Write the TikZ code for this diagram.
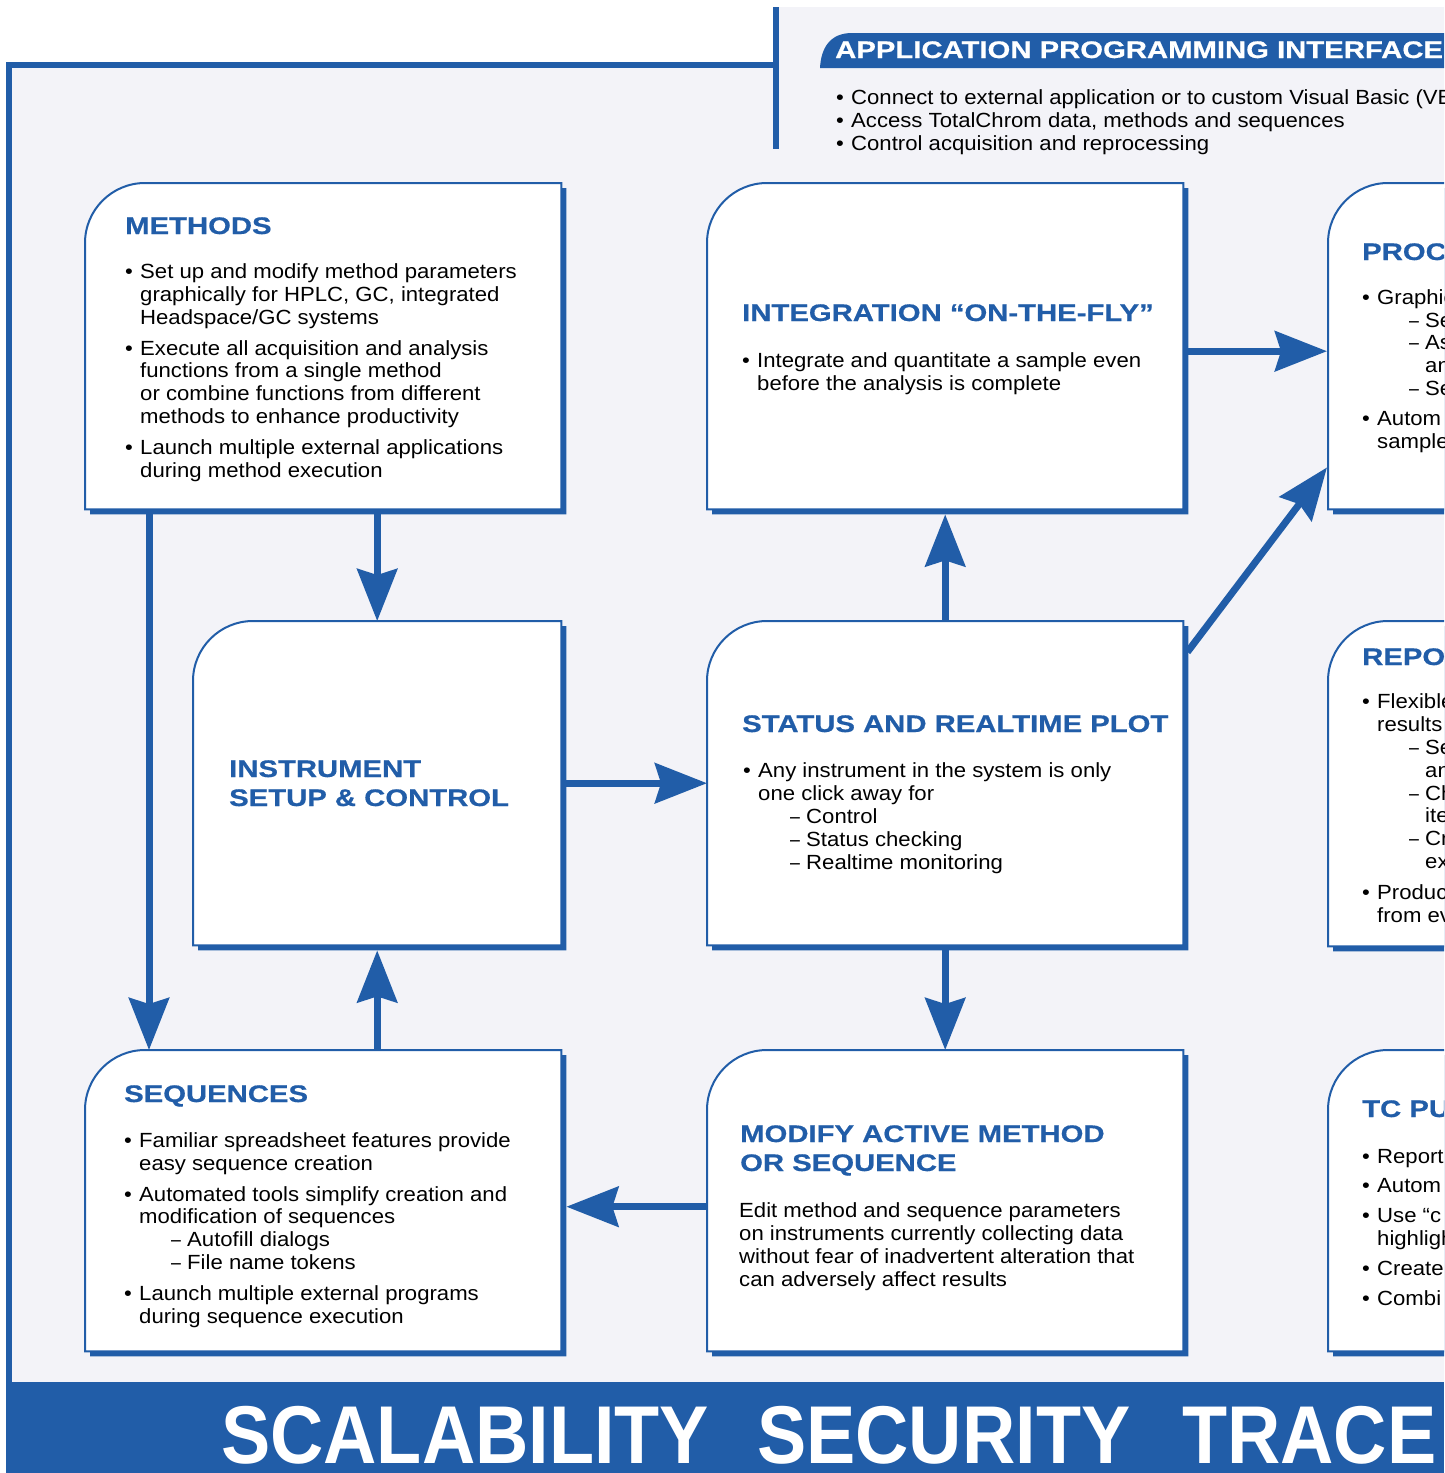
\documentclass[tikz,border=0pt]{standalone}
\usepackage{fontspec}
\setmainfont{Liberation Sans}
\newfontfamily\bodyfont[FakeStretch=1.08]{Liberation Sans}
\newfontfamily\headfont[FakeStretch=1.22, BoldFeatures={FakeBold=0.6}]{Liberation Sans}
\newfontfamily\bannerfont[FakeStretch=0.9]{Liberation Sans}
\usetikzlibrary{arrows.meta,calc}
\definecolor{tcblue}{RGB}{33,93,168}
\definecolor{paper}{RGB}{243,243,248}
\newcommand{\bulitm}{\makebox[15pt][l]{\textbullet}}
\newcommand{\contline}{\hspace*{15pt}}
\newcommand{\subitm}{\hspace*{47pt}\makebox[16pt][l]{\scalebox{0.8}[1]{–}}}
\newcommand{\subcont}{\hspace*{63pt}}
\newcommand{\panelpath}[1]{(#1.south west) -- ($(#1.north west)+(0,60)$) arc[start angle=180, end angle=270, radius=60] -- (#1.north east) -- (#1.south east) -- cycle}
\begin{document}
\begin{tikzpicture}[x=1pt, y=-1pt,
		panel/.style={rectangle, draw=none, inner sep=0pt, anchor=north west},
		title/.style={font=\headfont\bfseries\fontsize{24pt}{29pt}\selectfont, text=tcblue, align=left, anchor=base west, inner sep=0pt},
		body/.style={font=\bodyfont\fontsize{20.5pt}{22.8pt}\selectfont, align=left, anchor=base west, inner sep=0pt},
		banner/.style={font=\bannerfont\bfseries\fontsize{82pt}{82pt}\selectfont, text=white, anchor=base west, inner sep=0pt},
		frame/.style={draw=tcblue, line width=6pt, line join=miter},
		flow/.style={draw=tcblue, line width=7pt, -{Stealth[length=52pt, width=40pt, inset=6pt]}}
		]
		
		\useasboundingbox (0,0) rectangle (1444,1473);
		\clip (0,0) rectangle (1444,1473);
		
		% background and frame
		\fill[paper] (9,65) -- (776,65) -- (776,7) -- (1444,7) -- (1444,1382) -- (9,1382) -- cycle;
		\draw[frame] (9,1382) -- (9,65) -- (776,65);
		\draw[frame] (776,7) -- (776,149);
		\fill[tcblue] (6,1382) rectangle (1444,1473);
		\fill[tcblue] (820,68) .. controls (821,48) and (830,33) .. (852,33) -- (1444,33) -- (1444,68) -- cycle;
		
		\node[panel, minimum width=476pt, minimum height=326pt] (meth) at (85,183) {};
		\node[panel, minimum width=476pt, minimum height=326pt] (integ) at (707,183) {};
		\node[panel, minimum width=476pt, minimum height=326pt] (proc) at (1328,183) {};
		\node[panel, minimum width=368pt, minimum height=324pt] (inst) at (193,621) {};
		\node[panel, minimum width=476pt, minimum height=324pt] (stat) at (707,621) {};
		\node[panel, minimum width=476pt, minimum height=325pt] (repo) at (1328,621) {};
		\node[panel, minimum width=476pt, minimum height=301pt] (seq) at (85,1050) {};
		\node[panel, minimum width=476pt, minimum height=301pt] (mod) at (707,1050) {};
		\node[panel, minimum width=476pt, minimum height=301pt] (tcpub) at (1328,1050) {};
		
		\foreach \n in {meth,integ,proc,inst,stat,repo,seq,mod,tcpub} {
			\fill[tcblue, transform canvas={shift={(5,5)}}] \panelpath{\n};
			\filldraw[fill=white, draw=tcblue, line width=2pt] \panelpath{\n};
		}
		
		% API
		\node[font=\headfont\bfseries\fontsize{24pt}{28pt}\selectfont, text=white, anchor=base west, inner sep=0pt] (apiT) at (835,58) {APPLICATION PROGRAMMING INTERFACE};
		\node[body] (apiB) at (836,150) {\bulitm Connect to external application or to custom Visual Basic (VB\\
			\bulitm Access TotalChrom data, methods and sequences\\
			\bulitm Control acquisition and reprocessing};
		
		% box texts (multi-line nodes sit on their last baseline)
		\node[title] (methT) at (125,234) {METHODS};
		\node[body] (methB) at (125,477) {\bulitm Set up and modify method parameters\\
			\contline graphically for HPLC, GC, integrated\\
			\contline Headspace/GC systems\\[8pt]
			\bulitm Execute all acquisition and analysis\\
			\contline functions from a single method\\
			\contline or combine functions from different\\
			\contline methods to enhance productivity\\[8pt]
			\bulitm Launch multiple external applications\\
			\contline during method execution};
		
		\node[title] (integT) at (742,321) {INTEGRATION “ON-THE-FLY”};
		\node[body] (integB) at (742,390) {\bulitm Integrate and quantitate a sample even\\
			\contline before the analysis is complete};
		
		\node[title] (procT) at (1362,260) {PROC};
		\node[body] (procB) at (1362,448) {\bulitm Graphic\\
			\subitm Se\\
			\subitm As\\
			\subcont an\\
			\subitm Se\\[7pt]
			\bulitm Autom\\
			\contline sample};
		
		\node[title] (instT) at (229,806) {INSTRUMENT\\SETUP \& CONTROL};
		
		\node[title] (statT) at (742,732) {STATUS AND REALTIME PLOT};
		\node[body] (statB) at (743,869) {\bulitm Any instrument in the system is only\\
			\contline one click away for\\
			\subitm Control\\
			\subitm Status checking\\
			\subitm Realtime monitoring};
		
		\node[title] (repoT) at (1362,665) {REPO};
		\node[body] (repoB) at (1362,922) {\bulitm Flexible\\
			\contline results\\
			\subitm Se\\
			\subcont an\\
			\subitm Ch\\
			\subcont ite\\
			\subitm Cr\\
			\subcont ex\\[8pt]
			\bulitm Produc\\
			\contline from ev};
		
		\node[title] (seqT) at (124,1102) {SEQUENCES};
		\node[body] (seqB) at (124,1323) {\bulitm Familiar spreadsheet features provide\\
			\contline easy sequence creation\\[8pt]
			\bulitm Automated tools simplify creation and\\
			\contline modification of sequences\\
			\subitm Autofill dialogs\\
			\subitm File name tokens\\[8pt]
			\bulitm Launch multiple external programs\\
			\contline during sequence execution};
		
		\node[title] (modT) at (740,1171) {MODIFY ACTIVE METHOD\\OR SEQUENCE};
		\node[body] (modB) at (739,1286) {Edit method and sequence parameters\\
			on instruments currently collecting data\\
			without fear of inadvertent alteration that\\
			can adversely affect results};
		
		\node[title] (tcT) at (1362,1117) {TC PU};
		\node[body] (tcB) at (1362,1305) {\bulitm Report\\[7pt]
			\bulitm Autom\\[7pt]
			\bulitm Use “c\\
			\contline highligh\\[7pt]
			\bulitm Create\\[7pt]
			\bulitm Combi};
		
		% banner
		\node[banner] (scal) at (221,1463) {SCALABILITY};
		\node[banner] (secu) at (757,1463) {SECURITY};
		\node[banner] (trace) at (1182,1463) {TRACE};
		
		% arrows
		\draw[flow] (inst.north |- meth.south) -- (inst.north);
		\draw[flow] ($(meth.south west)+(64,0)$) -- ($(seq.north west)+(64,0)$);
		\draw[flow] (inst.south |- seq.north) -- ($(inst.south)+(0,5)$);
		\draw[flow] (inst.east) -- (stat.west);
		\draw[flow] (stat.north) -- ($(integ.south)+(0,5)$);
		\draw[flow] (stat.south) -- (mod.north);
		\draw[flow] ($(mod.west)+(0,6)$) -- ($(seq.east)+(5,6)$);
		\draw[flow] ($(integ.east)+(0,5)$) -- ($(proc.west)+(-1,5)$);
		\draw[flow] ($(stat.north east)+(4,31)$) -- ($(proc.south west)+(-1,-42)$);
		
	\end{tikzpicture}
\end{document}
